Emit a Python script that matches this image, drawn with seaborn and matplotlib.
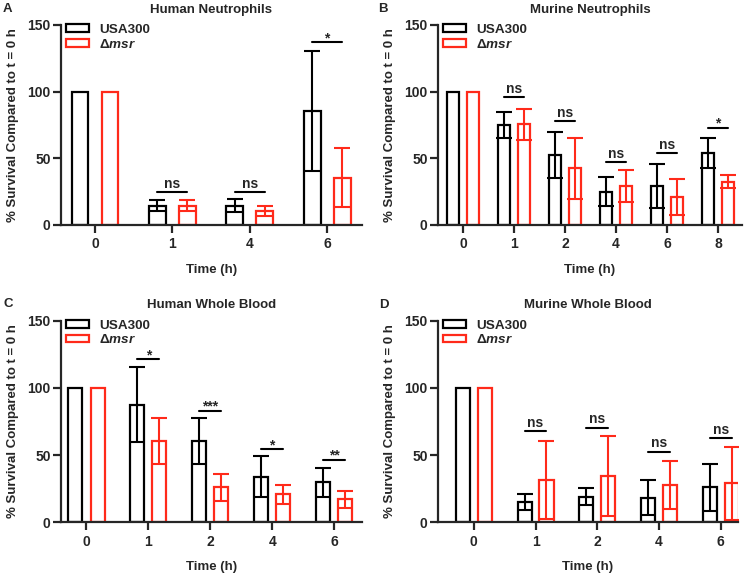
import matplotlib
matplotlib.use("Agg")
import matplotlib.pyplot as plt
import pandas as pd
import seaborn as sns

sns.set_style("ticks")
plt.rcParams["font.family"] = ["Liberation Sans", "DejaVu Sans"]
plt.rcParams["font.weight"] = "bold"
plt.rcParams["axes.labelweight"] = "bold"
plt.rcParams["axes.titleweight"] = "bold"
plt.rcParams["mathtext.fontset"] = "custom"
plt.rcParams["mathtext.it"] = "Liberation Sans:bold:italic"
plt.rcParams["mathtext.rm"] = "Liberation Sans:bold"

STRAINS = ["USA300", "Δmsr"]
COLORS = ["black", "#ff2a1a"]
FS = 9.5

# A: human neutrophils
a_times = ["0", "1", "4", "6"]
a_usa = [100, 14.5, 14.5, 85.5]
a_usa_sd = [0, 4, 5, 45]
a_msr = [100, 14.5, 10.5, 35.5]
a_msr_sd = [0, 4, 4, 22]
a_sig = ["", "ns", "ns", "*"]
a_sig_y = [0, 25, 25, 137]

# B: murine neutrophils
b_times = ["0", "1", "2", "4", "6", "8"]
b_usa = [100, 75, 52.5, 25, 29.5, 54]
b_usa_sd = [0, 10, 17, 11, 16.5, 11.5]
b_msr = [100, 75.5, 42.5, 29.5, 20.75, 32.5]
b_msr_sd = [0, 11.5, 23, 12, 13.5, 5]
b_sig = ["", "ns", "ns", "ns", "ns", "*"]
b_sig_y = [0, 96, 78, 47, 54, 73]

# C: human whole blood
c_times = ["0", "1", "2", "4", "6"]
c_usa = [100, 87.5, 60.5, 34, 29.75]
c_usa_sd = [0, 28, 17, 15, 11]
c_msr = [100, 60.7, 26, 20.8, 17]
c_msr_sd = [0, 17, 10, 7, 6]
c_sig = ["", "*", "***", "*", "**"]
c_sig_y = [0, 121.5, 83, 54.5, 46.5]

# D: murine whole blood
d_times = ["0", "1", "2", "4", "6"]
d_usa = [100, 15, 19, 18.3, 26]
d_usa_sd = [0, 6, 6.5, 13, 17.7]
d_msr = [100, 31.5, 34.5, 27.8, 29]
d_msr_sd = [0, 29, 30, 18, 27]
d_sig = ["", "ns", "ns", "ns", "ns"]
d_sig_y = [0, 68, 70.5, 52.6, 62.5]


def draw_panel(ax, times, usa, usa_sd, msr, msr_sd, sig, sig_y, title,
               xlim, width, gap):
    n = len(times)
    df = pd.DataFrame({
        "time": times * 2,
        "strain": [STRAINS[0]] * n + [STRAINS[1]] * n,
        "survival": usa + msr,
    })
    sns.barplot(df, x="time", y="survival", hue="strain", order=times,
                hue_order=STRAINS, palette=COLORS, fill=False, linewidth=1.6,
                width=width, gap=gap, errorbar=None, ax=ax)

    # error bars (SD) on top of the bars
    for cont, sds, col in zip(ax.containers, [usa_sd, msr_sd], COLORS):
        for bar, sd in zip(cont, sds):
            if sd > 0:
                x = bar.get_x() + bar.get_width() / 2
                ax.errorbar(x, bar.get_height(), yerr=sd, color=col, lw=1.5,
                            capsize=5.5, capthick=1.5)

    # significance brackets
    for i, (s, y) in enumerate(zip(sig, sig_y)):
        if not s:
            continue
        b0, b1 = ax.containers[0][i], ax.containers[1][i]
        x0 = b0.get_x() + b0.get_width() / 2
        x1 = b1.get_x() + b1.get_width() / 2
        ax.plot([x0, x1], [y, y], color="black", lw=1.5)
        off = 3 if s == "ns" else 0
        ax.annotate(s, ((x0 + x1) / 2, y), xytext=(0, off),
                    textcoords="offset points", ha="center", va="baseline",
                    fontsize=FS + 0.5, fontweight="bold")

    ax.set_ylim(0, 150)
    ax.set_yticks([0, 50, 100, 150])
    ax.set_xlim(*xlim)
    sns.despine(ax=ax)
    for sp in ["left", "bottom"]:
        ax.spines[sp].set_linewidth(1.6)
    ax.tick_params(axis="both", length=5.5, width=1.6, labelsize=FS + 0.5)
    ax.tick_params(axis="x", pad=3.5)
    ax.tick_params(axis="y", pad=2)
    ax.set_ylabel("% Survival Compared to t = 0 h", fontsize=FS, labelpad=6)
    ax.set_xlabel("Time (h)", fontsize=FS, labelpad=9)
    ax.set_title(title, fontsize=FS, pad=9)

    handles, _ = ax.get_legend_handles_labels()
    ax.legend(handles, ["USA300", r"Δ$\mathit{msr}$"], loc="upper left",
              bbox_to_anchor=(0.015, 1.005), frameon=False, fontsize=FS + 0.2,
              handlelength=1.75, handleheight=0.5, handletextpad=0.75,
              labelspacing=0.12, borderpad=0, borderaxespad=0)


W, H = 750, 573
fig = plt.figure(figsize=(W / 100, H / 100), dpi=100)


def add_ax(l, t, r, b):
    return fig.add_axes([l / W, 1 - b / H, (r - l) / W, (b - t) / H])


ax_a = add_ax(61, 25, 362, 225)
ax_b = add_ax(438, 25, 742, 225)
ax_c = add_ax(61, 320.7, 362, 522.3)
ax_d = add_ax(438, 320.7, 738, 522.3)

draw_panel(ax_a, a_times, a_usa, a_usa_sd, a_msr, a_msr_sd, a_sig, a_sig_y,
           "Human Neutrophils", (-0.44, 3.45), 0.775, 0.44)
draw_panel(ax_b, b_times, b_usa, b_usa_sd, b_msr, b_msr_sd, b_sig, b_sig_y,
           "Murine Neutrophils", (-0.49, 5.47), 0.78, 0.41)
draw_panel(ax_c, c_times, c_usa, c_usa_sd, c_msr, c_msr_sd, c_sig, c_sig_y,
           "Human Whole Blood", (-0.41, 4.45), 0.72, 0.37)
draw_panel(ax_d, d_times, d_usa, d_usa_sd, d_msr, d_msr_sd, d_sig, d_sig_y,
           "Murine Whole Blood", (-0.58, 4.28), 0.71, 0.36)

for letter, x, y in [("A", 3, 3), ("B", 378, 3), ("C", 3, 298), ("D", 379, 299)]:
    fig.text(x / W, 1 - y / H, letter, ha="left", va="top", fontsize=FS,
             fontweight="bold")

fig.savefig("out.png", dpi=100)
